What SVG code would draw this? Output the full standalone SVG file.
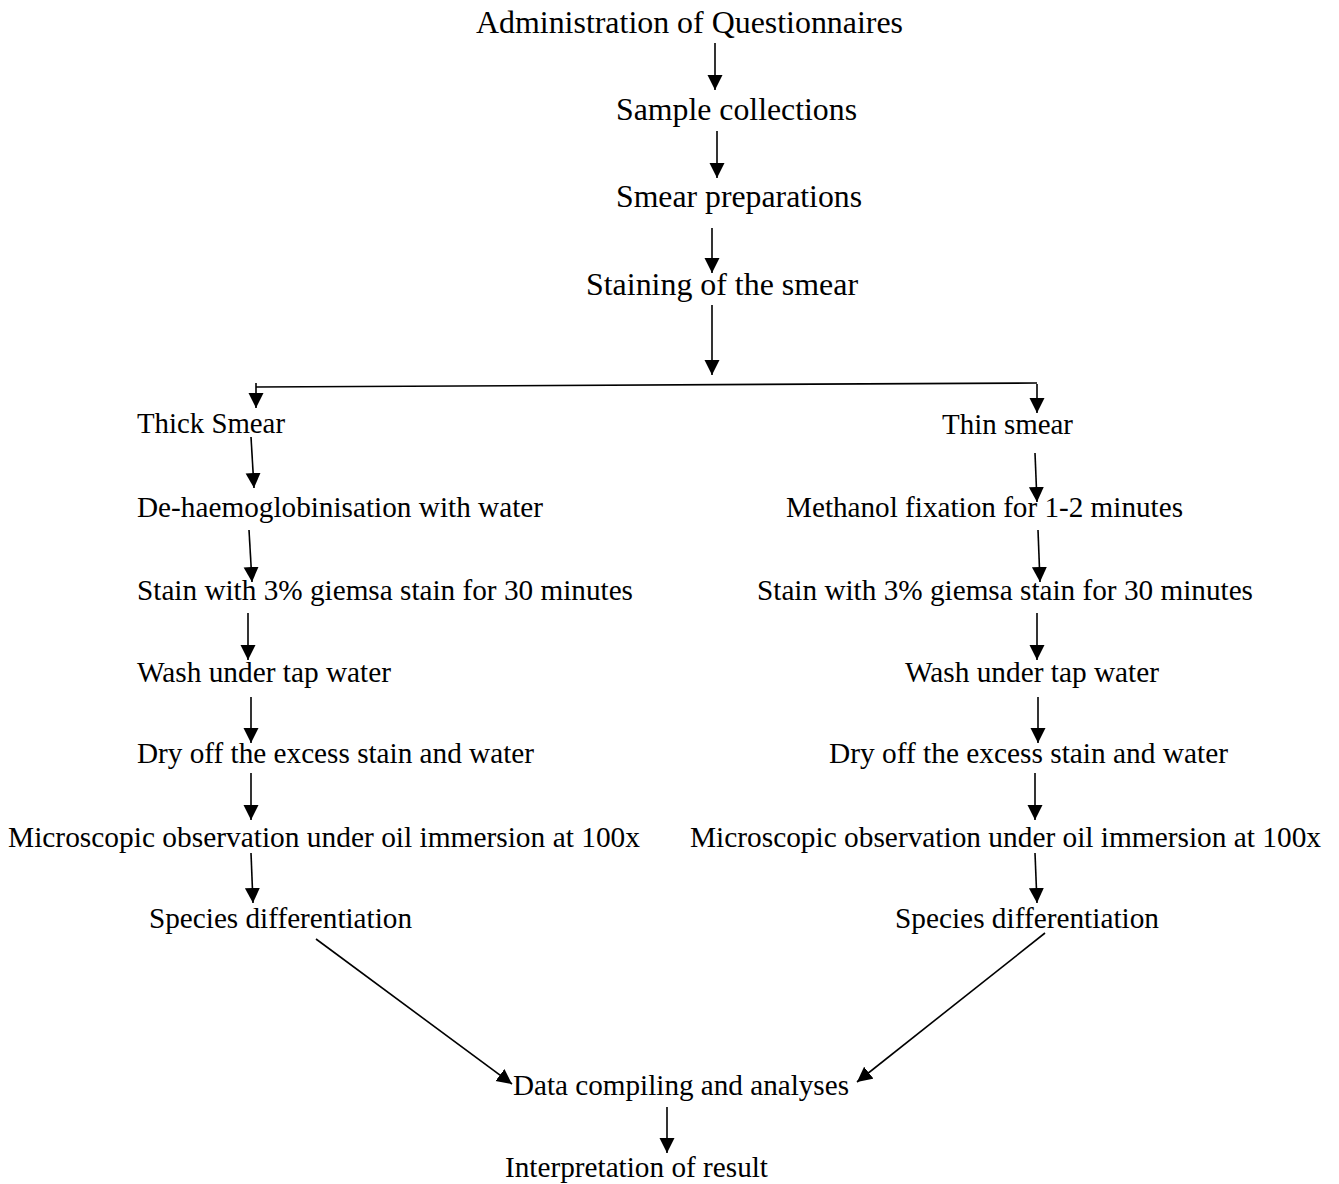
<svg xmlns="http://www.w3.org/2000/svg" width="1339" height="1184" viewBox="0 0 1339 1184">
<style>
text{font-family:'Liberation Serif','DejaVu Serif',serif;fill:#000}
.h{font-size:32px}
.t{font-size:29px}
.c line{stroke:#000;stroke-width:1.6;marker-end:url(#ah)}
.c line.nm{marker-end:none}
</style>
<defs>
<marker id="ah" markerUnits="userSpaceOnUse" markerWidth="16" markerHeight="16" refX="15" refY="7.5" orient="auto">
<path d="M0,0 L15,7.5 L0,15 Z" fill="#000"/>
</marker>
</defs>
<rect width="1339" height="1184" fill="#fff"/>
<g font-family="Liberation Serif, DejaVu Serif, serif">
<g id="n1"><text class="h" x="476" y="33" textLength="427" lengthAdjust="spacingAndGlyphs">Administration of Questionnaires</text></g>
<g id="n2"><text class="h" x="616" y="120" textLength="241" lengthAdjust="spacingAndGlyphs">Sample collections</text></g>
<g id="n3"><text class="h" x="616" y="207" textLength="246" lengthAdjust="spacingAndGlyphs">Smear preparations</text></g>
<g id="n4"><text class="h" x="586" y="295" textLength="272" lengthAdjust="spacingAndGlyphs">Staining of the smear</text></g>
<g id="L1"><text class="t" x="137" y="433" textLength="148" lengthAdjust="spacingAndGlyphs">Thick Smear</text></g>
<g id="L2"><text class="t" x="137" y="517" textLength="406" lengthAdjust="spacingAndGlyphs">De-haemoglobinisation with water</text></g>
<g id="L3"><text class="t" x="137" y="600" textLength="496" lengthAdjust="spacingAndGlyphs">Stain with 3% giemsa stain for 30 minutes</text></g>
<g id="L4"><text class="t" x="137" y="682" textLength="254" lengthAdjust="spacingAndGlyphs">Wash under tap water</text></g>
<g id="L5"><text class="t" x="137" y="763" textLength="397" lengthAdjust="spacingAndGlyphs">Dry off the excess stain and water</text></g>
<g id="L6"><text class="t" x="8" y="847" textLength="632" lengthAdjust="spacingAndGlyphs">Microscopic observation under oil immersion at 100x</text></g>
<g id="L7"><text class="t" x="149" y="928" textLength="263" lengthAdjust="spacingAndGlyphs">Species differentiation</text></g>
<g id="R1"><text class="t" x="942" y="434" textLength="131" lengthAdjust="spacingAndGlyphs">Thin smear</text></g>
<g id="R2"><text class="t" x="786" y="517" textLength="397" lengthAdjust="spacingAndGlyphs">Methanol fixation for 1-2 minutes</text></g>
<g id="R3"><text class="t" x="757" y="600" textLength="496" lengthAdjust="spacingAndGlyphs">Stain with 3% giemsa stain for 30 minutes</text></g>
<g id="R4"><text class="t" x="905" y="682" textLength="254" lengthAdjust="spacingAndGlyphs">Wash under tap water</text></g>
<g id="R5"><text class="t" x="829" y="763" textLength="399" lengthAdjust="spacingAndGlyphs">Dry off the excess stain and water</text></g>
<g id="R6"><text class="t" x="690" y="847" textLength="631" lengthAdjust="spacingAndGlyphs">Microscopic observation under oil immersion at 100x</text></g>
<g id="R7"><text class="t" x="895" y="928" textLength="264" lengthAdjust="spacingAndGlyphs">Species differentiation</text></g>
<g id="n5"><text class="t" x="513" y="1095" textLength="336" lengthAdjust="spacingAndGlyphs">Data compiling and analyses</text></g>
<g id="n6"><text class="t" x="505" y="1177" textLength="263" lengthAdjust="spacingAndGlyphs">Interpretation of result</text></g>
</g>
<g id="connectors" class="c">
<line x1="715" y1="43" x2="715" y2="90"/>
<line x1="717" y1="131" x2="717" y2="178"/>
<line x1="712" y1="228" x2="712" y2="273"/>
<line x1="712" y1="305" x2="712" y2="375"/>
<line class="nm" x1="256" y1="387" x2="1037" y2="383"/>
<line x1="256" y1="383" x2="256" y2="408"/>
<line x1="1037" y1="384" x2="1037" y2="413"/>
<line x1="251" y1="437" x2="254" y2="488"/>
<line x1="249" y1="530" x2="252" y2="582"/>
<line x1="248" y1="613" x2="248" y2="660"/>
<line x1="251" y1="697" x2="251" y2="743"/>
<line x1="251" y1="773" x2="251" y2="820"/>
<line x1="251" y1="853" x2="253" y2="903"/>
<line x1="1035" y1="453" x2="1037" y2="502"/>
<line x1="1038" y1="530" x2="1040" y2="582"/>
<line x1="1037" y1="613" x2="1037" y2="660"/>
<line x1="1038" y1="697" x2="1038" y2="743"/>
<line x1="1035" y1="773" x2="1035" y2="820"/>
<line x1="1035" y1="853" x2="1037" y2="903"/>
<line x1="316" y1="939" x2="512" y2="1084"/>
<line x1="1045" y1="933" x2="857" y2="1082"/>
<line x1="667" y1="1107" x2="667" y2="1153"/>
</g>
</svg>
